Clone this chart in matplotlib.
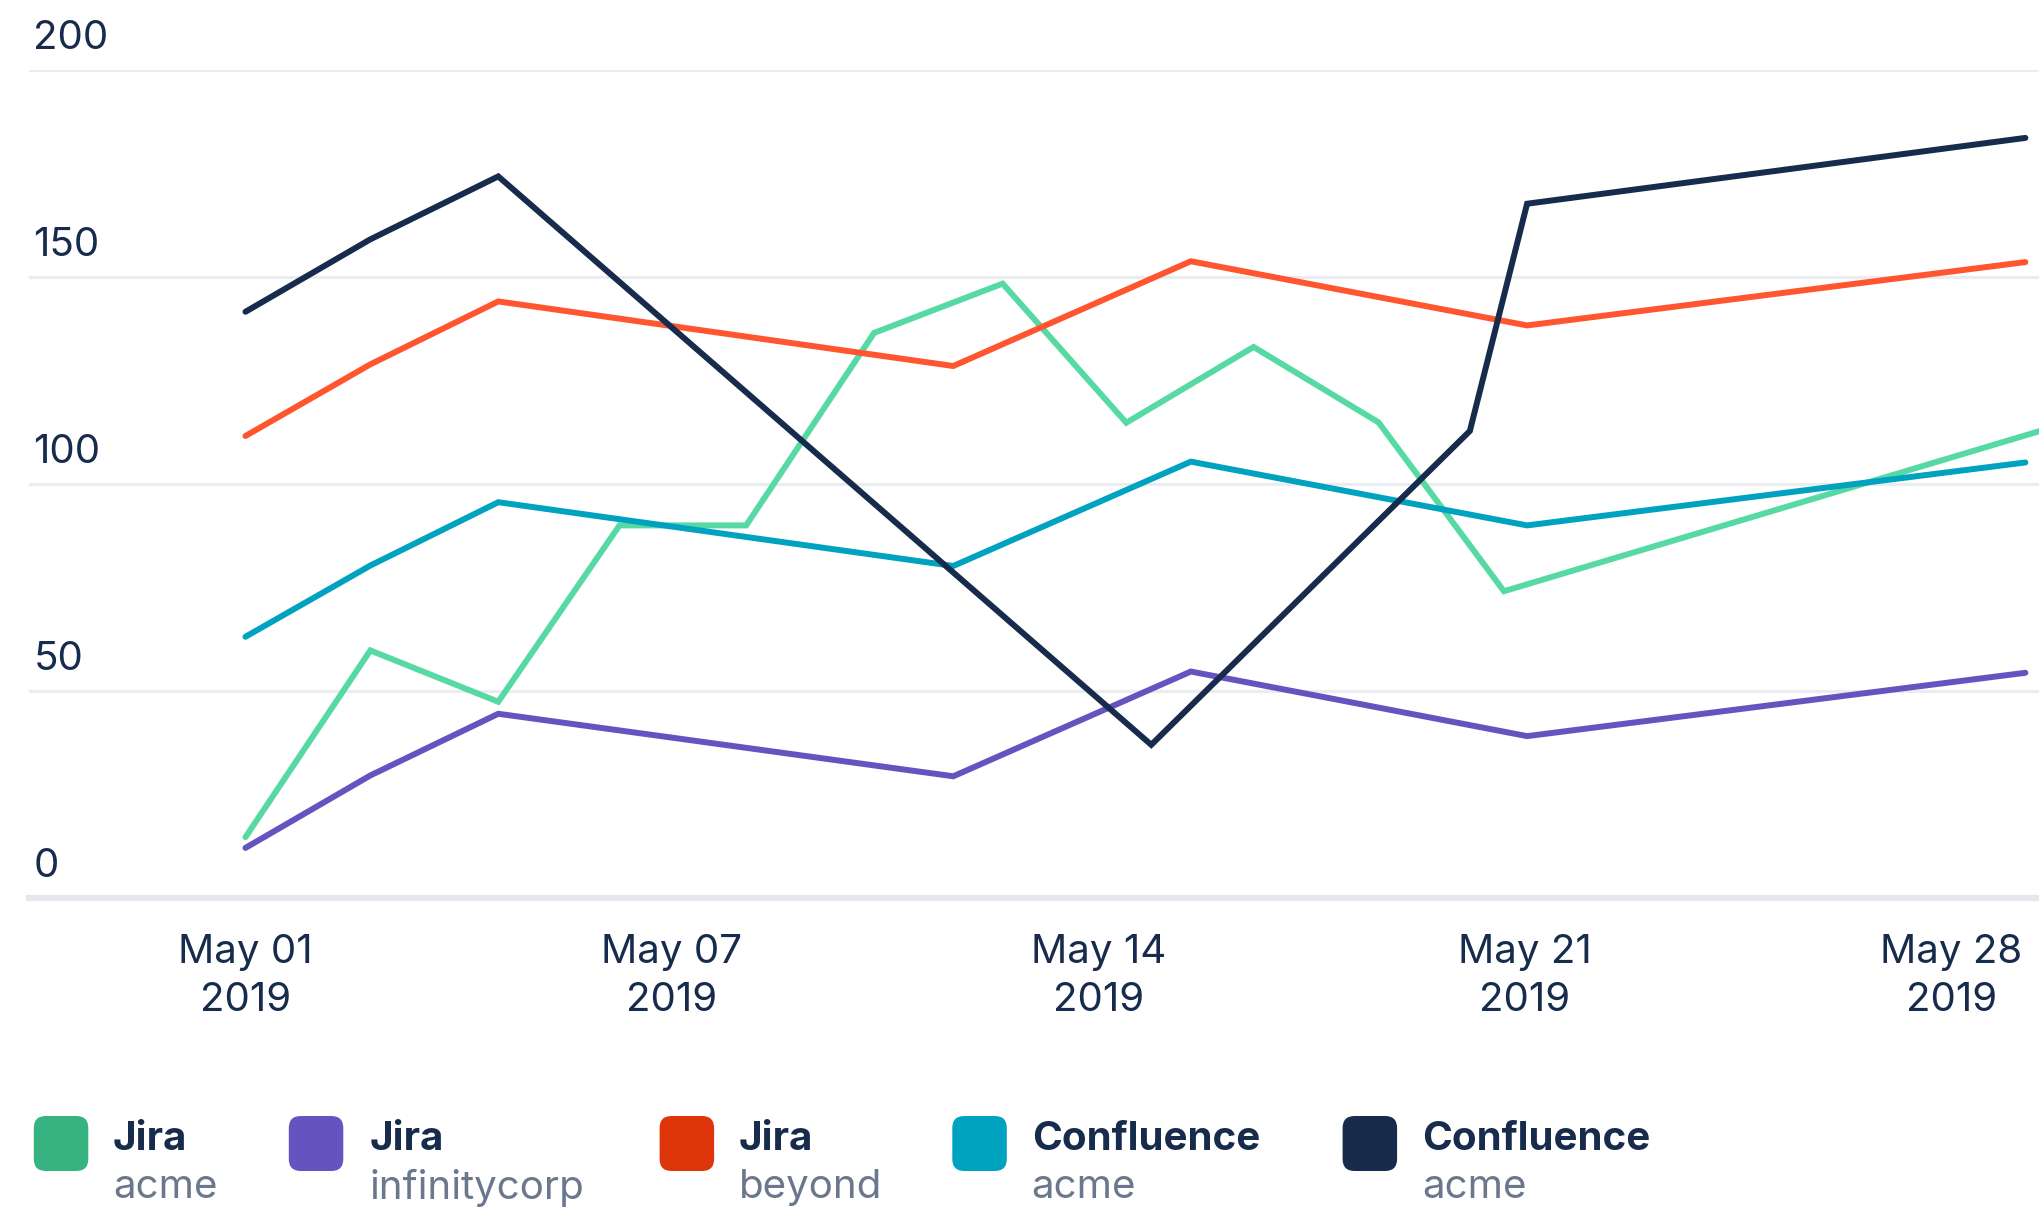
import matplotlib
matplotlib.use("Agg")
import matplotlib.pyplot as plt
import matplotlib.transforms as mtransforms
from matplotlib.patches import FancyBboxPatch

plt.rcParams['font.family'] = ['Inter', 'DejaVu Sans']

# ---- data (x in days from the first tick) ----
tick_pos = [0, 7, 14, 21, 28]
tick_labels = ["May 01\n2019", "May 07\n2019", "May 14\n2019", "May 21\n2019", "May 28\n2019"]
y_ticks = [0, 50, 100, 150, 200]

jira_acme_x = [0, 2.05, 4.15, 6.14, 8.22, 10.32, 12.43, 14.46, 16.55, 18.60, 20.66, 31.3]
jira_acme_y = [14.7, 59.8, 47.4, 90.0, 90.0, 136.5, 148.4, 114.8, 133.1, 114.9, 74.1, 120.9]

jira_infinity_x = [0, 2.05, 4.15, 11.62, 15.52, 21.04, 29.22]
jira_infinity_y = [12.1, 29.6, 44.5, 29.4, 54.7, 39.1, 54.4]

jira_beyond_x = [0, 2.05, 4.15, 11.62, 15.52, 21.04, 29.22]
jira_beyond_y = [111.6, 128.9, 144.1, 128.5, 153.8, 138.3, 153.6]

conf_acme_teal_x = [0, 2.05, 4.15, 11.62, 15.52, 21.04, 29.22]
conf_acme_teal_y = [63.1, 80.3, 95.6, 80.2, 105.4, 90.0, 105.2]

conf_acme_navy_x = [0, 2.05, 4.15, 14.87, 20.10, 21.04, 29.22]
conf_acme_navy_y = [141.6, 159.1, 174.3, 37.0, 112.8, 167.7, 183.6]

legend_titles = ["Jira", "Jira", "Jira", "Confluence", "Confluence"]
legend_subs = ["acme", "infinitycorp", "beyond", "acme", "acme"]
line_colors = ["#57D9A3", "#6554C0", "#FF5630", "#00A3BF", "#172B4D"]
swatch_colors = ["#36B37E", "#6554C0", "#DE350B", "#00A3BF", "#172B4D"]

series = [
    (jira_acme_x, jira_acme_y),
    (jira_infinity_x, jira_infinity_y),
    (jira_beyond_x, jira_beyond_y),
    (conf_acme_teal_x, conf_acme_teal_y),
    (conf_acme_navy_x, conf_acme_navy_y),
]

W, H = 2040, 1208
fig = plt.figure(figsize=(W / 100, H / 100), dpi=100)
fig.patch.set_facecolor("white")

ax_left, ax_right = 28.6, 2040
ax_top, ax_bottom = 70, 898
ax = fig.add_axes([ax_left / W, 1 - ax_bottom / H, (ax_right - ax_left) / W, (ax_bottom - ax_top) / H])
ax.set_xlim(-3.56, 29.46)
ax.set_ylim(0, 200)

for s in ax.spines.values():
    s.set_visible(False)

# grid lines
for yv in y_ticks[1:]:
    ax.axhline(yv, color="#EBECF0", lw=2.2, zorder=1)
ax.axhline(0, color="#E6E7EC", lw=4.5, zorder=1, clip_on=False)

for (xs, ys), c in zip(series, line_colors):
    ax.plot(xs, ys, color=c, lw=4.3, solid_joinstyle="miter", solid_capstyle="round", zorder=3)

# y labels (above grid lines, left aligned)
off = mtransforms.offset_copy(ax.get_yaxis_transform(), fig=fig, x=3.4, y=23, units="points")
for yv in y_ticks:
    ax.text(0, yv, str(yv), transform=off, ha="left", va="center", fontsize=29, color="#172B4D")
ax.set_yticks([])

ax.set_xticks(tick_pos)
ax.set_xticklabels(tick_labels, fontsize=29, color="#172B4D", linespacing=1.38)
ax.tick_params(axis="x", length=0, pad=26)

# legend
ident = mtransforms.IdentityTransform()
sw_x = [33.8, 288.8, 659.6, 952.3, 1342.6]
txt_x = [113, 369.5, 739, 1031.7, 1422]
for i in range(5):
    box = FancyBboxPatch((sw_x[i], H - 1171), 54.5, 55,
                         boxstyle="round,pad=0,rounding_size=12",
                         facecolor=swatch_colors[i], edgecolor="none", transform=ident)
    fig.add_artist(box)
    fig.text(txt_x[i] / W, 1 - 1139 / H, legend_titles[i], ha="left", va="center",
             fontsize=29, fontweight="bold", color="#172B4D")
    fig.text(txt_x[i] / W, 1 - 1188 / H, legend_subs[i], ha="left", va="center",
             fontsize=29, color="#6B778C")

fig.savefig("out.png", dpi=100, facecolor="white")
